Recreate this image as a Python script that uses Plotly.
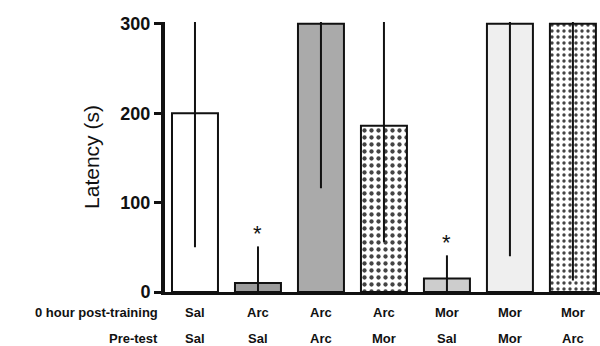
import plotly.graph_objects as go

post_training = ["Sal", "Arc", "Arc", "Arc", "Mor", "Mor", "Mor"]
pre_test = ["Sal", "Sal", "Arc", "Mor", "Sal", "Mor", "Arc"]
latency = [200, 10, 300, 186, 15, 300, 300]
sd = [150, 41, 184, 130, 26, 260, 287]
significant = [False, True, False, False, True, False, False]

fill_colors = ["#ffffff", "#9c9c9c", "#aaaaaa", "#ffffff", "#cdcdcd", "#efefef", "#ffffff"]
pattern_shapes = ["", "", "", ".", "", "", "."]
pattern_fg = ["#000000", "#000000", "#000000", "#000000", "#000000", "#000000", "#b4b4b4"]
pattern_size = [6, 6, 6, 7, 6, 6, 6]
pattern_sol = [0.3, 0.3, 0.3, 0.3, 0.3, 0.3, 0.25]

x = list(range(len(latency)))
font_family = "Liberation Sans, Arial, sans-serif"

fig = go.Figure()
fig.add_trace(go.Bar(
    x=x, y=latency, width=0.73,
    marker=dict(
        color=fill_colors,
        line=dict(color="#111111", width=2),
        pattern=dict(shape=pattern_shapes, fgcolor=pattern_fg, bgcolor=fill_colors,
                     size=pattern_size, solidity=pattern_sol, fillmode="overlay", fgopacity=1),
    ),
    error_y=dict(type="data", array=sd, visible=True, color="#111111", thickness=2, width=0),
    showlegend=False, hoverinfo="skip",
))

for i, s in enumerate(significant):
    if s:
        fig.add_annotation(x=i, y=latency[i] + sd[i], text="*", showarrow=False,
                           yanchor="bottom", yshift=-2,
                           font=dict(family=font_family, size=22, color="#111111"))

for i in x:
    fig.add_annotation(x=i, y=0, yref="y", text=post_training[i], showarrow=False,
                       yanchor="middle", yshift=-20,
                       font=dict(family=font_family, size=13, color="#111111", weight="bold"))
    fig.add_annotation(x=i, y=0, yref="y", text=pre_test[i], showarrow=False,
                       yanchor="middle", yshift=-46,
                       font=dict(family=font_family, size=13, color="#111111", weight="bold"))

fig.add_annotation(x=-0.012, xref="paper", xanchor="right", y=0, yref="y", text="0 hour post-training",
                   showarrow=False, yanchor="middle", yshift=-20,
                   font=dict(family=font_family, size=13, color="#111111", weight="bold"))
fig.add_annotation(x=-0.012, xref="paper", xanchor="right", y=0, yref="y", text="Pre-test",
                   showarrow=False, yanchor="middle", yshift=-46,
                   font=dict(family=font_family, size=13, color="#111111", weight="bold"))

fig.update_layout(
    width=600, height=346,
    margin=dict(l=165, r=0, t=22, b=54),
    plot_bgcolor="white", paper_bgcolor="white",
    xaxis=dict(range=[-0.476, 6.43], showticklabels=False, ticks="", showgrid=False,
               zeroline=False, showline=True, linecolor="#111111", linewidth=3, automargin=False),
    yaxis=dict(range=[0, 302], tickvals=[0, 100, 200, 300], ticks="outside", ticklen=7,
               tickwidth=3, tickcolor="#111111", showgrid=False, zeroline=False, automargin=False,
               showline=True, linecolor="#111111", linewidth=4,
               tickfont=dict(family=font_family, size=18, color="#111111", weight="bold"),
               title=dict(text="Latency (s)", standoff=16,
                          font=dict(family=font_family, size=21, color="#111111"))),
)
fig.write_html("out.html", config={"displayModeBar": False},
               post_script="document.body.style.margin='0';document.body.style.overflow='hidden';")
